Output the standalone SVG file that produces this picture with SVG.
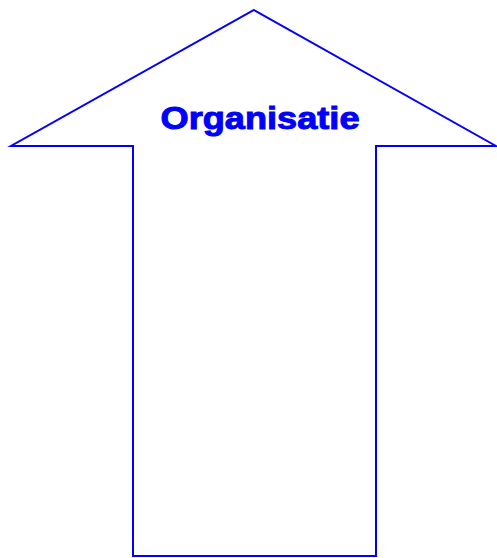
<svg xmlns="http://www.w3.org/2000/svg" width="497" height="558" viewBox="0 0 497 558">
<style>
.shape{fill:#fff;stroke:#0000ff;stroke-width:2}
.lbl{font-family:"Liberation Sans",Arial,sans-serif;font-weight:bold;fill:#0000ff;stroke:#0000ff;stroke-width:1;font-size:32px}
</style>
<rect width="497" height="558" fill="#fff"/>
<g id="arrow">
<polygon class="shape" points="254,10 496,146 376,146 376,556 133,556 133,146 11,146"/>
<text class="lbl" x="260" y="129" text-anchor="middle" textLength="199" lengthAdjust="spacingAndGlyphs">Organisatie</text>
</g>
<g id="connectors"/>
</svg>
